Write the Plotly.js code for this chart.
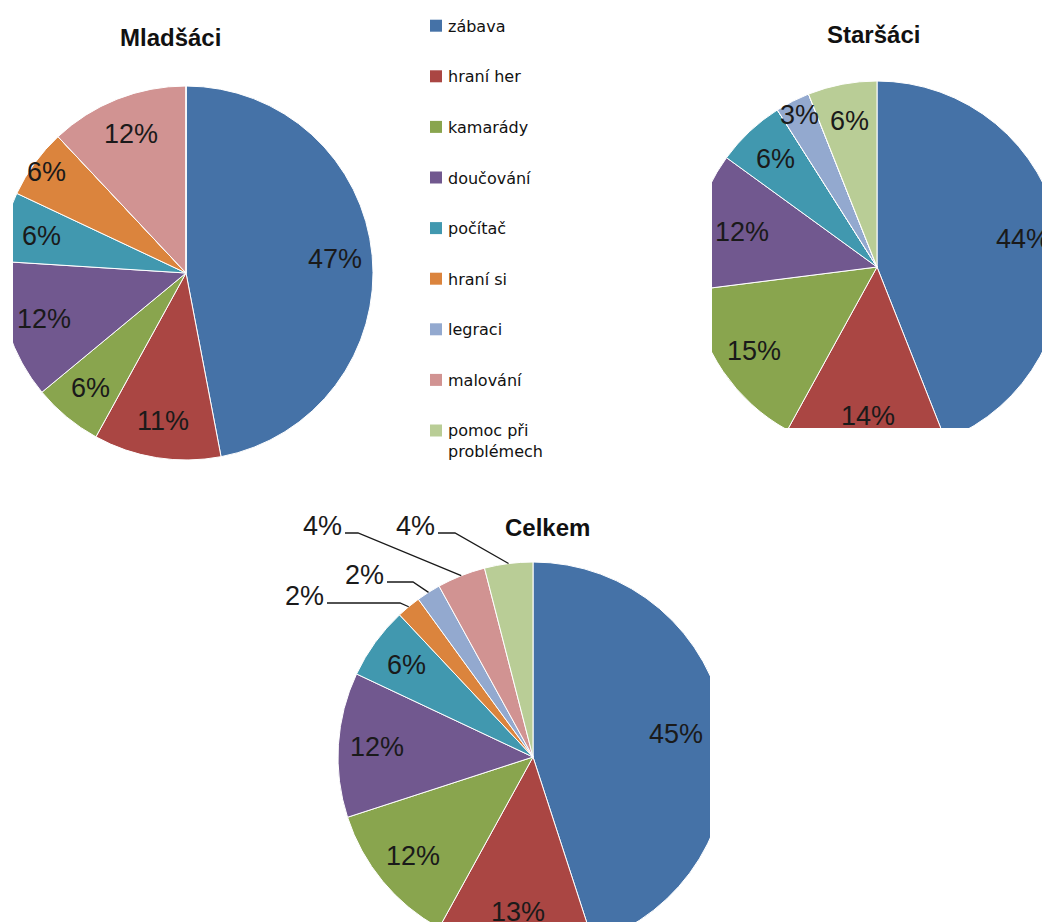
<!DOCTYPE html>
<html>
<head>
<meta charset="utf-8">
<script src="https://cdn.plot.ly/plotly-3.0.1.min.js"></script>
<style>
  html, body { margin: 0; padding: 0; background: #ffffff; overflow: hidden; width: 1042px; height: 922px; }
  .clip { position: absolute; overflow: hidden; }
  .plot { position: absolute; }
</style>
</head>
<body>
<div id="base" class="plot"></div>
<div id="clipM" class="clip"><div id="pieM" class="plot"></div></div>
<div id="clipS" class="clip"><div id="pieS" class="plot"></div></div>
<div id="clipC" class="clip"><div id="pieC" class="plot"></div></div>
<script>
// Categories (shared by all three pies) and their colours
const categories = ['zábava', 'hraní her', 'kamarády', 'doučování', 'počítač', 'hraní si', 'legraci', 'malování', 'pomoc při problémech'];
const colors = ['#4572A7', '#AA4643', '#89A54E', '#71588F', '#4198AF', '#DB843D', '#93A9CF', '#D19392', '#B9CD96'];

// Shares in percent for each group
const mladsaci = [47, 11, 6, 12, 6, 6, 0, 12, 0];
const starsaci = [44, 14, 15, 12, 6, 0, 3, 0, 6];
const celkem   = [45, 13, 12, 12, 6, 2, 2, 4, 4];

const chartTitles = ['Mladšáci', 'Staršáci', 'Celkem'];

// Every plot uses the same oversized canvas, shifted by O so that its pixel
// coordinates equal page coordinates; clip boxes crop each pie.
const O = 20, W = 1240, H = 1040;
const fx = px => (px + O) / W;
const fy = py => 1 - (py + O) / H;

const labelFont = { family: 'Liberation Sans, Arial, sans-serif', size: 27, color: '#1a1a1a' };
const titleFont = { family: 'Liberation Sans, Arial, sans-serif', size: 24, color: '#111111', weight: 'bold' };
const legendFont = { family: 'DejaVu Sans, sans-serif', size: 16, color: '#111111' };

const pies = [
  { id: 'pieM', clip: 'clipM', values: mladsaci, title: chartTitles[0],
    cx: 186, cy: 273, r: 187, box: [13, 0, 413, 470], titleAt: [170, 37],
    labelRadius: { 5: 0.92 }, outside: {} },
  { id: 'pieS', clip: 'clipS', values: starsaci, title: chartTitles[1],
    cx: 877, cy: 267, r: 186, box: [712, 0, 1042, 428], titleAt: [873, 34],
    labelRadius: { 3: 0.75, 6: 0.92 }, outside: {} },
  { id: 'pieC', clip: 'clipC', values: celkem, title: chartTitles[2],
    cx: 533, cy: 757, r: 195, box: [250, 480, 710, 922], titleAt: [547, 527],
    labelRadius: { 0: 0.74 },
    outside: {
      5: { at: [304, 596], elbow: 400 },
      6: { at: [364, 575], elbow: 413 },
      7: { at: [322, 526], elbow: 358 },
      8: { at: [415, 526], elbow: 455 }
    } }
];

const config = { staticPlot: true, displayModeBar: false };

pies.forEach(p => {
  const clip = document.getElementById(p.clip);
  clip.style.left = p.box[0] + 'px';
  clip.style.top = p.box[1] + 'px';
  clip.style.width = (p.box[2] - p.box[0]) + 'px';
  clip.style.height = (p.box[3] - p.box[1]) + 'px';
  const div = document.getElementById(p.id);
  div.style.left = (-O - p.box[0]) + 'px';
  div.style.top = (-O - p.box[1]) + 'px';
  div.style.width = W + 'px';
  div.style.height = H + 'px';

  const annotations = [];
  const shapes = [];

  annotations.push({
    xref: 'paper', yref: 'paper', x: fx(p.titleAt[0]), y: fy(p.titleAt[1]),
    xanchor: 'center', yanchor: 'middle', showarrow: false,
    text: p.title, font: titleFont
  });

  // Percentage labels placed at each slice's mid-angle (clockwise from 12 o'clock)
  const total = p.values.reduce((a, b) => a + b, 0);
  let cum = 0;
  p.values.forEach((v, i) => {
    const mid = 2 * Math.PI * (cum + v / 2) / total;
    cum += v;
    if (v <= 0) return;
    const text = v + '%';
    const o = p.outside[i];
    if (o) {
      const tipX = p.cx + p.r * Math.sin(mid);
      const tipY = p.cy - p.r * Math.cos(mid);
      const lineY = o.at[1] + 7;
      const startX = o.at[0] + 23;
      annotations.push({
        xref: 'paper', yref: 'paper', x: fx(o.at[0]), y: fy(o.at[1]),
        xanchor: 'center', yanchor: 'middle', showarrow: false,
        text: text, font: labelFont
      });
      shapes.push({
        type: 'path', xref: 'paper', yref: 'paper', layer: 'above',
        path: 'M ' + fx(startX) + ' ' + fy(lineY) +
              ' L ' + fx(o.elbow) + ' ' + fy(lineY) +
              ' L ' + fx(tipX) + ' ' + fy(tipY),
        line: { color: '#1a1a1a', width: 1.3 }
      });
    } else {
      const k = p.labelRadius[i] || 0.8;
      annotations.push({
        xref: 'paper', yref: 'paper',
        x: fx(p.cx + k * p.r * Math.sin(mid)), y: fy(p.cy - k * p.r * Math.cos(mid)),
        xanchor: 'center', yanchor: 'middle', showarrow: false,
        text: text, font: labelFont
      });
    }
  });

  const trace = {
    type: 'pie',
    labels: categories,
    values: p.values,
    sort: false,
    direction: 'clockwise',
    rotation: 0,
    textinfo: 'none',
    hoverinfo: 'skip',
    marker: { colors: colors, line: { color: '#ffffff', width: 1 } },
    domain: {
      x: [fx(p.cx - p.r), fx(p.cx + p.r)],
      y: [fy(p.cy + p.r), fy(p.cy - p.r)]
    }
  };

  Plotly.newPlot(div, [trace], {
    width: W, height: H,
    margin: { l: 0, r: 0, t: 0, b: 0 },
    paper_bgcolor: 'rgba(0,0,0,0)',
    showlegend: false,
    annotations: annotations,
    shapes: shapes
  }, config);
});

// Shared legend drawn on the white base layer
(function () {
  const div = document.getElementById('base');
  div.style.left = (-O) + 'px';
  div.style.top = (-O) + 'px';
  div.style.width = W + 'px';
  div.style.height = H + 'px';
  const legendX = 430, legendY0 = 25.7, legendStep = 50.6, sw = 12;
  const shapes = [];
  const annotations = [];
  categories.forEach((c, i) => {
    const yc = legendY0 + legendStep * i;
    shapes.push({
      type: 'rect', xref: 'paper', yref: 'paper',
      x0: fx(legendX), x1: fx(legendX + sw), y0: fy(yc + sw / 2), y1: fy(yc - sw / 2),
      fillcolor: colors[i], line: { width: 0 }
    });
    const label = c === 'pomoc při problémech' ? 'pomoc při<br>problémech' : c;
    annotations.push({
      xref: 'paper', yref: 'paper', x: fx(legendX + sw + 4), y: fy(yc - 11),
      xanchor: 'left', yanchor: 'top', align: 'left', showarrow: false,
      text: label, font: legendFont
    });
  });
  Plotly.newPlot(div, [], {
    width: W, height: H,
    margin: { l: 0, r: 0, t: 0, b: 0 },
    paper_bgcolor: '#ffffff', plot_bgcolor: '#ffffff',
    xaxis: { visible: false }, yaxis: { visible: false },
    showlegend: false,
    shapes: shapes, annotations: annotations
  }, config);
})();
</script>
</body>
</html>
